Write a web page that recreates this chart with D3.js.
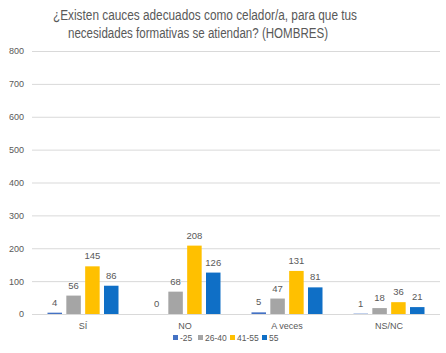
<!DOCTYPE html>
<html>
<head>
<meta charset="utf-8">
<script src="https://cdn.jsdelivr.net/npm/d3@7"></script>
<style>
  body { margin: 0; background: #fff; }
  text { font-family: "Liberation Sans", Arial, sans-serif; fill: #595959; }
</style>
</head>
<body>
<svg id="chart"></svg>
<script>
// chart data
var categories = ["SÍ", "NO", "A veces", "NS/NC"];
var groups = ["-25", "26-40", "41-55", "55"];
var values_25 = [4, 0, 5, 1];
var values_26_40 = [56, 68, 47, 18];
var values_41_55 = [145, 208, 131, 36];
var values_55 = [86, 126, 81, 21];
var yTicks = [0, 100, 200, 300, 400, 500, 600, 700, 800];
var colors = ["#4472C4", "#A5A5A5", "#FFC000", "#0F6FC6"];

var series = [values_25, values_26_40, values_41_55, values_55];

var W = 446, H = 353;
var margin = {top: 51, right: 6, bottom: 39, left: 32};
var width = W - margin.left - margin.right;
var height = H - margin.top - margin.bottom;

var svg = d3.select("#chart").attr("width", W).attr("height", H);

// title, two lines (squeezed to the width of the original narrow font)
var title = svg.append("text")
    .style("font-size", "14px");
title.append("tspan").attr("x", 53).attr("y", 20)
    .attr("textLength", 304).attr("lengthAdjust", "spacingAndGlyphs")
    .text("¿Existen cauces adecuados como celador/a, para que tus");
title.append("tspan").attr("x", 68).attr("y", 38)
    .attr("textLength", 260).attr("lengthAdjust", "spacingAndGlyphs")
    .text("necesidades formativas se atiendan? (HOMBRES)");

var g = svg.append("g")
    .attr("transform", "translate(" + margin.left + "," + margin.top + ")");

var x0 = d3.scaleBand().domain(categories).range([0, width]).paddingInner(0).paddingOuter(0);
var x1 = d3.scaleBand().domain(groups)
    .range([15.5, x0.bandwidth() - 15.5]).paddingInner(0.23);
var y = d3.scaleLinear().domain([0, 800]).range([height, 0]);

// gridlines
g.selectAll("line.grid")
    .data(yTicks)
    .enter().append("line")
    .attr("class", "grid")
    .attr("x1", 0).attr("x2", width)
    .attr("y1", function(d) { return y(d) + 0.5; })
    .attr("y2", function(d) { return y(d) + 0.5; })
    .style("stroke", "#d9d9d9")
    .style("stroke-width", 1);

// y axis labels
var yAxis = d3.axisLeft(y).tickValues(yTicks).tickSize(0).tickPadding(8);
var yG = g.append("g").call(yAxis);
yG.select(".domain").remove();
yG.selectAll("text").style("font-size", "9px").style("fill", "#595959");

// x axis labels
var xAxis = d3.axisBottom(x0).tickSize(0).tickPadding(9);
var xG = g.append("g").attr("transform", "translate(0," + height + ")").call(xAxis);
xG.select(".domain").remove();
xG.selectAll("text").style("font-size", "9px").style("fill", "#595959");

// bars
var rows = [];
categories.forEach(function(c, i) {
    groups.forEach(function(gr, j) {
        rows.push({cat: c, group: gr, value: series[j][i], color: colors[j]});
    });
});

g.selectAll("rect.bar")
    .data(rows)
    .enter().append("rect")
    .attr("class", "bar")
    .attr("x", function(d) { return x0(d.cat) + x1(d.group); })
    .attr("width", x1.bandwidth())
    .attr("y", function(d) { return y(d.value); })
    .attr("height", function(d) { return height - y(d.value); })
    .style("fill", function(d) { return d.color; });

// value labels
g.selectAll("text.val")
    .data(rows)
    .enter().append("text")
    .attr("class", "val")
    .attr("text-anchor", "middle")
    .attr("x", function(d) { return x0(d.cat) + x1(d.group) + x1.bandwidth() / 2; })
    .attr("y", function(d) { return y(d.value) - 7; })
    .style("font-size", "9.5px")
    .text(function(d) { return d.value; });

// legend
var legendX = [173, 198, 230, 262];
var legend = svg.selectAll("g.legend")
    .data(groups)
    .enter().append("g")
    .attr("class", "legend")
    .attr("transform", function(d, i) { return "translate(" + legendX[i] + ",335)"; });
legend.append("rect")
    .attr("width", 5).attr("height", 5)
    .style("fill", function(d, i) { return colors[i]; });
legend.append("text")
    .attr("x", 7).attr("y", 5.5)
    .style("font-size", "8.5px")
    .text(function(d) { return d; });
</script>
</body>
</html>
